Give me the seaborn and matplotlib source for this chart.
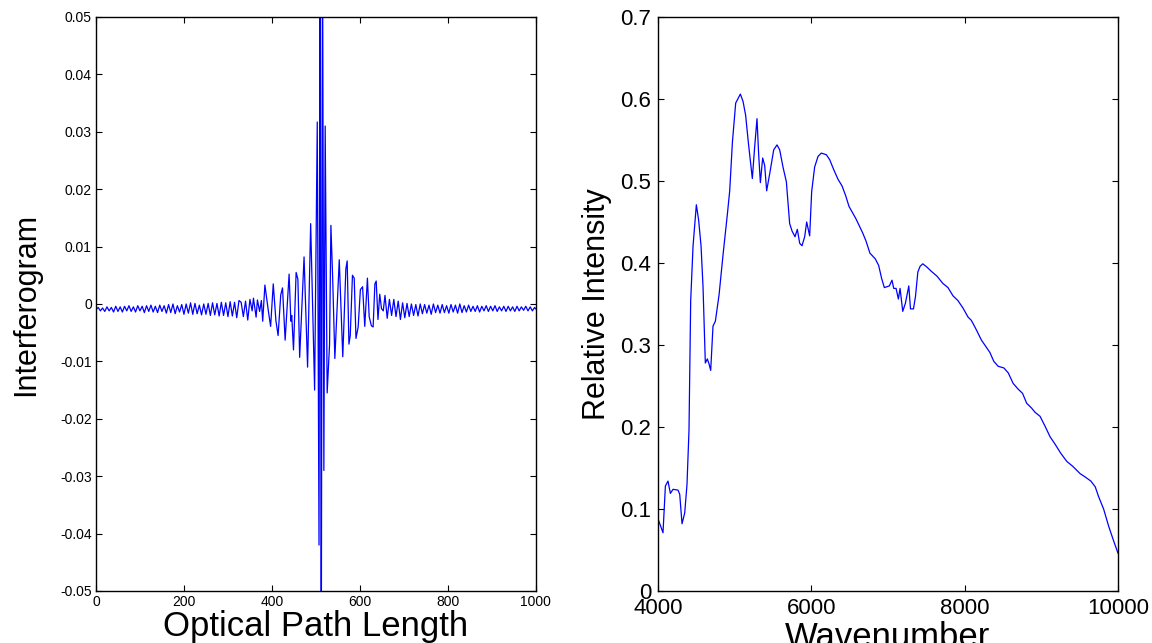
import matplotlib
matplotlib.use("Agg")
import matplotlib.pyplot as plt
import seaborn as sns

# Interferogram (optical path length vs signal)
opl = [0, 5, 10, 15, 20, 25, 30, 35, 40, 45, 50, 55, 60, 65, 70, 75, 80, 85, 90, 95,
       100, 105, 110, 115, 120, 125, 130, 135, 140, 145, 150, 155, 160, 165, 170, 175,
       180, 185, 190, 195, 200, 205, 210, 215, 220, 225, 230, 235, 240, 245, 250, 255,
       260, 265, 270, 275, 280, 285, 290, 295, 300, 305, 310, 315, 320, 325,
       330, 335, 340, 345, 350, 355, 358, 364, 367, 372, 376, 379, 384, 392, 397, 403,
       409, 414, 420, 424, 430, 439, 443, 445, 449, 455, 459, 463, 473, 481, 488, 497,
       503, 507, 509.5, 512, 515, 518, 521, 525.5, 531, 534, 538, 543, 553, 561, 568,
       571, 575, 578, 583, 587, 591, 596, 601, 606, 611, 617, 621, 626, 630, 634, 637,
       641, 645, 649, 653, 657, 662, 667, 672, 677, 682, 687, 692, 697,
       702, 707, 712, 717, 722, 727, 732, 737, 742, 747, 752, 757, 762, 767, 772, 777,
       782, 787, 792, 797, 802, 807, 812, 817, 822, 827, 832, 837, 842, 847, 852, 857,
       862, 867, 872, 877, 882, 887, 892, 897, 902, 907, 912, 917, 922, 927, 932, 937,
       942, 947, 952, 957, 962, 967, 972, 977, 982, 987, 992, 997, 1000]
signal = [-0.0010, -0.0006, -0.0012, -0.0007, -0.0013, -0.0005, -0.0012, -0.0006, -0.0014, -0.0004,
          -0.0013, -0.0005, -0.0014, -0.0004, -0.0012, -0.0003, -0.0013, -0.0005, -0.0014, -0.0003,
          -0.0012, -0.0004, -0.0015, -0.0003, -0.0013, -0.0002, -0.0014, -0.0004, -0.0015, -0.0002,
          -0.0013, -0.0003, -0.0016, -0.0001, -0.0015, 0.0000, -0.0017, -0.0003, -0.0014, -0.0001,
          -0.0018, 0.0000, -0.0016, 0.0002, -0.0018, 0.0001, -0.0017, -0.0002, -0.0019, 0.0000,
          -0.0018, 0.0001, -0.0020, 0.0002, -0.0019, 0.0001, -0.0021, 0.0003, -0.0020, 0.0002,
          -0.0022, 0.0004, -0.0021, 0.0003, -0.0024, 0.0006,
          0.0003, -0.0022, 0.0005, -0.0028, 0.0008, -0.0012, 0.0010, -0.0023, 0.0007, -0.0013,
          0.0006, -0.0030, 0.0033, -0.0013, -0.0039, 0.0035,
          -0.0029, -0.0055, 0.0016, 0.0028, -0.0063, 0.0052, -0.0030, -0.0020, -0.0080, 0.0055,
          0.0043, -0.0093, 0.0082, -0.0110, 0.0140, -0.0150,
          0.0317, -0.0420, 0.0800, -0.0700, 0.0650, -0.0290, 0.0310, -0.0155, -0.0070, 0.0137,
          0.0046, -0.0095, 0.0077, -0.0092, 0.0061,
          0.0075, -0.0070, -0.0055, 0.0050, 0.0045, -0.0060, -0.0040, 0.0025, 0.0030, -0.0039,
          0.0045, -0.0022, -0.0038, -0.0040, 0.0035, 0.0040,
          -0.0027, 0.0017, -0.0008, -0.0012, 0.0015, -0.0025, 0.0008, -0.0020, 0.0008, -0.0022,
          0.0005, -0.0027, 0.0002,
          -0.0024, 0.0001, -0.0022, 0.0000, -0.0020, -0.0001, -0.0021, 0.0000, -0.0017, -0.0001,
          -0.0016, -0.0002, -0.0018, 0.0000, -0.0015, -0.0002,
          -0.0016, -0.0001, -0.0015, -0.0003, -0.0016, -0.0001, -0.0014, -0.0002, -0.0016, 0.0000,
          -0.0015, -0.0003, -0.0014, -0.0002, -0.0013, -0.0004,
          -0.0013, -0.0003, -0.0014, -0.0004, -0.0012, -0.0003, -0.0013, -0.0004, -0.0012, -0.0003,
          -0.0013, -0.0005, -0.0012, -0.0004, -0.0013, -0.0004,
          -0.0012, -0.0005, -0.0013, -0.0004, -0.0012, -0.0005, -0.0011, -0.0004, -0.0012, -0.0005,
          -0.0012, -0.0006, -0.0009]

# Spectrum (wavenumber vs relative intensity)
wavenumber = [4000, 4065, 4096, 4130, 4161, 4196, 4261, 4283, 4313, 4348, 4378, 4404, 4426,
              4457, 4500, 4530, 4561, 4587, 4617, 4643, 4665, 4687, 4717, 4748, 4796, 4848,
              4904, 4935, 4970, 5013, 5074, 5109, 5143, 5178, 5230, 5261, 5291, 5313, 5335,
              5365, 5391, 5417, 5457, 5509, 5552, 5587, 5630, 5674, 5717, 5748, 5787, 5817,
              5848, 5878, 5913, 5939, 5978, 6004, 6043, 6087, 6130, 6196, 6239, 6291, 6348,
              6400, 6448, 6491, 6581, 6668, 6712, 6764, 6834, 6878, 6917, 6952, 7017, 7052,
              7074, 7105, 7135, 7157, 7192, 7227, 7271, 7293, 7332, 7358, 7389, 7419, 7454,
              7507, 7563, 7638, 7716, 7782, 7847, 7913, 7978, 8044, 8087, 8144, 8218, 8284,
              8328, 8380, 8437, 8511, 8568, 8633, 8699, 8755, 8808, 8873, 8917, 8983, 9048,
              9114, 9179, 9253, 9332, 9410, 9507, 9572, 9646, 9703, 9747, 9812, 9878, 9943,
              10000]
intensity = [0.088, 0.071, 0.128, 0.134, 0.119, 0.124, 0.123, 0.118, 0.082, 0.095, 0.130, 0.196,
             0.354, 0.421, 0.471, 0.452, 0.421, 0.371, 0.278, 0.283, 0.277, 0.269, 0.323, 0.329,
             0.361, 0.410, 0.459, 0.488, 0.547, 0.595, 0.606, 0.597, 0.580, 0.547, 0.503, 0.542,
             0.576, 0.532, 0.498, 0.528, 0.519, 0.488, 0.509, 0.538, 0.544, 0.538, 0.517, 0.499,
             0.448, 0.439, 0.432, 0.441, 0.424, 0.421, 0.432, 0.450, 0.433, 0.487, 0.517, 0.530,
             0.534, 0.532, 0.526, 0.514, 0.502, 0.494, 0.482, 0.469, 0.454, 0.437, 0.427, 0.412,
             0.405, 0.397, 0.381, 0.370, 0.372, 0.379, 0.369, 0.369, 0.356, 0.369, 0.341, 0.351,
             0.372, 0.344, 0.344, 0.359, 0.389, 0.396, 0.399, 0.395, 0.390, 0.384, 0.375, 0.370,
             0.360, 0.354, 0.345, 0.334, 0.330, 0.320, 0.306, 0.297, 0.291, 0.280, 0.274, 0.272,
             0.266, 0.253, 0.246, 0.241, 0.229, 0.223, 0.218, 0.213, 0.201, 0.188, 0.179, 0.168,
             0.158, 0.152, 0.143, 0.139, 0.134, 0.127, 0.115, 0.100, 0.079, 0.061, 0.046]

left_xticks = [0, 200, 400, 600, 800, 1000]
left_yticks = [-0.05, -0.04, -0.03, -0.02, -0.01, 0, 0.01, 0.02, 0.03, 0.04, 0.05]
left_ylabels = ["-0.05", "-0.04", "-0.03", "-0.02", "-0.01", "0", "0.01", "0.02", "0.03", "0.04", "0.05"]
right_xticks = [4000, 6000, 8000, 10000]
right_yticks = [0, 0.1, 0.2, 0.3, 0.4, 0.5, 0.6, 0.7]
right_ylabels = ["0", "0.1", "0.2", "0.3", "0.4", "0.5", "0.6", "0.7"]

sns.set_style("ticks")
plt.rcParams['font.family'] = ['Liberation Sans', 'DejaVu Sans']
plt.rcParams['text.color'] = 'black'
plt.rcParams['axes.labelcolor'] = 'black'
plt.rcParams['xtick.color'] = 'black'
plt.rcParams['ytick.color'] = 'black'

fig = plt.figure(figsize=(11.52, 6.43), dpi=100)
ax1 = fig.add_axes([0.0833, 0.0809, 0.3819, 0.8927])
ax2 = fig.add_axes([0.5712, 0.0809, 0.3993, 0.8927])

sns.lineplot(x=opl, y=signal, ax=ax1, color='#0000ff', linewidth=0.9, estimator=None, sort=False)
ax1.set_xlim(0, 1000)
ax1.set_ylim(-0.05, 0.05)
ax1.set_xticks(left_xticks)
ax1.set_xticklabels([str(t) for t in left_xticks], fontsize=10)
ax1.set_yticks(left_yticks)
ax1.set_yticklabels(left_ylabels, fontsize=10)
ax1.set_xlabel('Optical Path Length', fontsize=25)
ax1.set_ylabel('Interferogram', fontsize=22)
ax1.xaxis.set_label_coords(0.5, -0.034)
ax1.yaxis.set_label_coords(-0.125, 0.5)

sns.lineplot(x=wavenumber, y=intensity, ax=ax2, color='#0000ff', linewidth=0.9, estimator=None, sort=False)
ax2.set_xlim(4000, 10000)
ax2.set_ylim(0, 0.7)
ax2.set_xticks(right_xticks)
ax2.set_xticklabels([str(t) for t in right_xticks], fontsize=16)
ax2.set_yticks(right_yticks)
ax2.set_yticklabels(right_ylabels, fontsize=16)
ax2.set_xlabel('Wavenumber', fontsize=25)
ax2.set_ylabel('Relative Intensity', fontsize=22)
ax2.xaxis.set_label_coords(0.5, -0.053)
ax2.yaxis.set_label_coords(-0.101, 0.5)

for ax in (ax1, ax2):
    for s in ax.spines.values():
        s.set_visible(True)
        s.set_color('black')
        s.set_linewidth(1.0)
    ax.tick_params(direction='in', length=4, width=0.8, top=True, right=True, pad=3, colors='black')
ax2.tick_params(axis='x', pad=5)
ax2.tick_params(axis='y', pad=5)

fig.savefig('out.png', dpi=100)
